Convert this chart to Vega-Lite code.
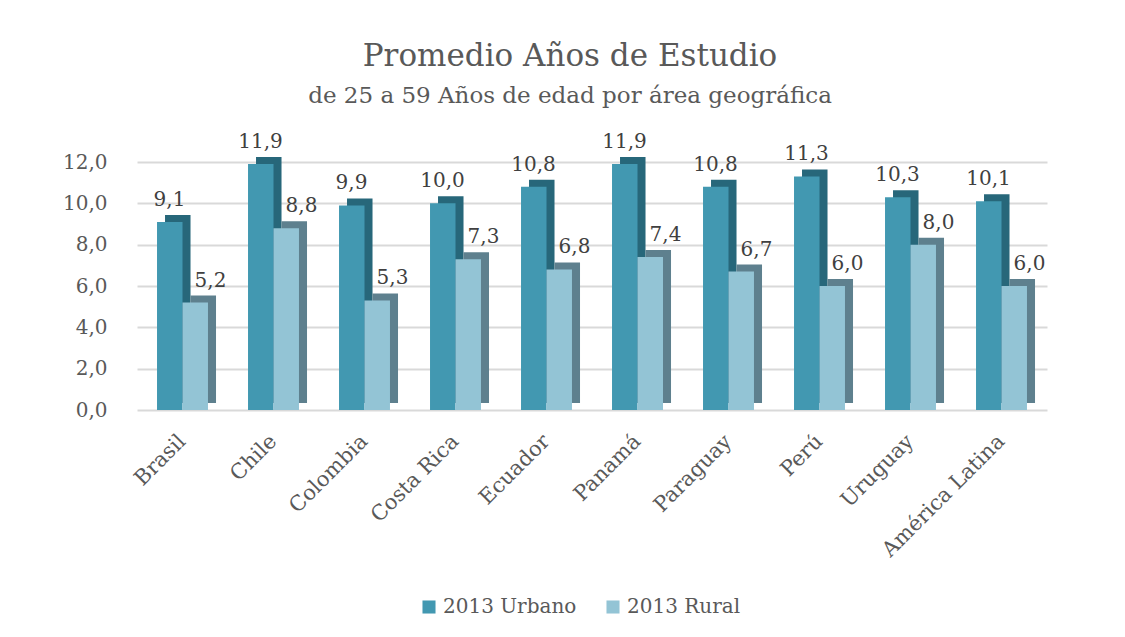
{
  "$schema": "https://vega.github.io/schema/vega-lite/v6.json",
  "width": 910,
  "height": 248,
  "autosize": "none",
  "padding": {"left": 137, "top": 162, "right": 78, "bottom": 227},
  "background": "white",
  "title": {
    "text": "Promedio Años de Estudio",
    "subtitle": "de 25 a 59 Años de edad por área geográfica",
    "anchor": "middle",
    "dx": -22,
    "offset": 23,
    "font": "DejaVu Serif",
    "fontSize": 31,
    "fontWeight": "normal",
    "color": "#595959",
    "subtitleFont": "DejaVu Serif",
    "subtitleFontSize": 23,
    "subtitleColor": "#595959",
    "subtitlePadding": 12
  },
  "data": {
    "values": [
      {"pais": "Brasil", "serie": "2013 Urbano", "valor": 9.1},
      {"pais": "Brasil", "serie": "2013 Rural", "valor": 5.2},
      {"pais": "Chile", "serie": "2013 Urbano", "valor": 11.9},
      {"pais": "Chile", "serie": "2013 Rural", "valor": 8.8},
      {"pais": "Colombia", "serie": "2013 Urbano", "valor": 9.9},
      {"pais": "Colombia", "serie": "2013 Rural", "valor": 5.3},
      {"pais": "Costa Rica", "serie": "2013 Urbano", "valor": 10.0},
      {"pais": "Costa Rica", "serie": "2013 Rural", "valor": 7.3},
      {"pais": "Ecuador", "serie": "2013 Urbano", "valor": 10.8},
      {"pais": "Ecuador", "serie": "2013 Rural", "valor": 6.8},
      {"pais": "Panamá", "serie": "2013 Urbano", "valor": 11.9},
      {"pais": "Panamá", "serie": "2013 Rural", "valor": 7.4},
      {"pais": "Paraguay", "serie": "2013 Urbano", "valor": 10.8},
      {"pais": "Paraguay", "serie": "2013 Rural", "valor": 6.7},
      {"pais": "Perú", "serie": "2013 Urbano", "valor": 11.3},
      {"pais": "Perú", "serie": "2013 Rural", "valor": 6.0},
      {"pais": "Uruguay", "serie": "2013 Urbano", "valor": 10.3},
      {"pais": "Uruguay", "serie": "2013 Rural", "valor": 8.0},
      {"pais": "América Latina", "serie": "2013 Urbano", "valor": 10.1},
      {"pais": "América Latina", "serie": "2013 Rural", "valor": 6.0}
    ]
  },
  "encoding": {
    "x": {
      "field": "pais",
      "type": "nominal",
      "sort": null,
      "scale": {"paddingInner": 0.44, "paddingOuter": 0.22},
      "axis": {
        "title": null,
        "labelAngle": -45,
        "labelAlign": "right",
        "labelBaseline": "middle",
        "labelPadding": 28,
        "labelFont": "DejaVu Serif",
        "labelFontSize": 21,
        "labelColor": "#595959",
        "ticks": false,
        "domain": false
      }
    },
    "y": {
      "field": "valor",
      "type": "quantitative",
      "scale": {"domain": [0, 12], "nice": false},
      "axis": {
        "title": null,
        "values": [0, 2, 4, 6, 8, 10, 12],
        "format": ".1f",
        "labelFont": "DejaVu Serif",
        "labelFontSize": 20,
        "labelColor": "#595959",
        "labelPadding": 30,
        "ticks": false,
        "domain": false,
        "gridColor": "#D9D9D9",
        "gridWidth": 2
      }
    }
  },
  "layer": [
    {
      "mark": {"type": "bar", "yOffset": -7, "y2Offset": -7},
      "encoding": {
        "xOffset": {
          "field": "serie",
          "type": "nominal",
          "sort": ["2013 Urbano", "2013 Rural"],
          "scale": {"paddingInner": 0, "paddingOuter": 0, "range": [8, 59]}
        },
        "color": {
          "field": "serie",
          "type": "nominal",
          "scale": {"domain": ["2013 Urbano", "2013 Rural"], "range": ["#27677A", "#5E808E"]},
          "legend": null
        }
      }
    },
    {
      "mark": {"type": "bar"},
      "encoding": {
        "xOffset": {
          "field": "serie",
          "type": "nominal",
          "sort": ["2013 Urbano", "2013 Rural"],
          "scale": {"paddingInner": 0, "paddingOuter": 0}
        },
        "color": {
          "field": "serie",
          "type": "nominal",
          "scale": {"domain": ["2013 Urbano", "2013 Rural"], "range": ["#4298B1", "#93C4D5"]},
          "legend": {
            "title": null,
            "orient": "none",
            "direction": "horizontal",
            "legendX": 282,
            "legendY": 435,
            "symbolType": "square",
            "symbolSize": 170,
            "symbolStrokeWidth": 0,
            "labelFont": "DejaVu Serif",
            "labelFontSize": 20,
            "labelColor": "#595959",
            "columnPadding": 26
          }
        }
      }
    },
    {
      "transform": [{"filter": "datum.serie === '2013 Urbano'"}],
      "mark": {"type": "text", "baseline": "alphabetic", "dy": -16, "dx": -13, "font": "DejaVu Serif", "fontSize": 20, "color": "#404040"},
      "encoding": {"text": {"field": "valor", "type": "quantitative", "format": ".1f"}}
    },
    {
      "transform": [{"filter": "datum.serie === '2013 Rural'"}],
      "mark": {"type": "text", "baseline": "alphabetic", "dy": -16, "dx": 28, "font": "DejaVu Serif", "fontSize": 20, "color": "#404040"},
      "encoding": {"text": {"field": "valor", "type": "quantitative", "format": ".1f"}}
    }
  ],
  "resolve": {"scale": {"color": "independent", "xOffset": "independent"}},
  "config": {
    "locale": {"number": {"decimal": ",", "thousands": ".", "grouping": [3], "currency": ["", ""]}},
    "view": {"stroke": null}
  }
}
